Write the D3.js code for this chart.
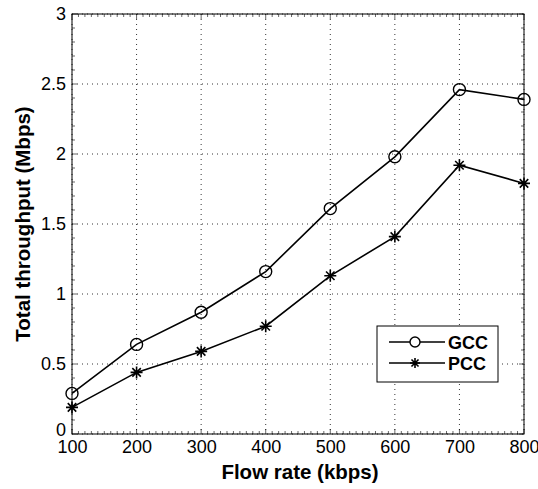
<!DOCTYPE html>
<html>
<head>
<meta charset="utf-8">
<script src="https://cdn.jsdelivr.net/npm/d3@7"></script>
<style>
    body { margin: 0; background: #fff; }
    text { font-family: "Liberation Sans", Arial, sans-serif; }
</style>
</head>
<body>
<div id="chart"></div>
<script>
var flowRates = [100, 200, 300, 400, 500, 600, 700, 800];
var gccValues = [0.29, 0.64, 0.87, 1.16, 1.61, 1.98, 2.46, 2.39];
var pccValues = [0.19, 0.44, 0.59, 0.77, 1.13, 1.41, 1.92, 1.79];
var yTicks = [0, 0.5, 1, 1.5, 2, 2.5, 3];
var seriesNames = ["GCC", "PCC"];

function init() {
    var w = 538;
    var h = 489;
    var left = 72, right = 524, top = 14, bottom = 434;

    var svg = d3.select("#chart")
        .append("svg")
        .attr("width", w)
        .attr("height", h);

    var xScale = d3.scaleLinear().domain([100, 800]).range([left, right]);
    var yScale = d3.scaleLinear().domain([0, 3]).range([bottom, top]);

    // dotted grid
    flowRates.forEach(function (v) {
        svg.append("line")
            .attr("x1", xScale(v)).attr("x2", xScale(v))
            .attr("y1", top).attr("y2", bottom)
            .attr("stroke", "#000").attr("stroke-width", 0.8)
            .attr("stroke-dasharray", "1,4");
    });
    yTicks.forEach(function (v) {
        svg.append("line")
            .attr("x1", left).attr("x2", right)
            .attr("y1", yScale(v)).attr("y2", yScale(v))
            .attr("stroke", "#000").attr("stroke-width", 0.8)
            .attr("stroke-dasharray", "1,4");
    });

    // minor ticks, inward on all sides
    var minorX = d3.range(100, 801, 10);
    var minorY = d3.range(0, 3.001, 0.1);
    minorX.forEach(function (v) {
        var len = (v % 100 === 0) ? 5 : 3;
        svg.append("line").attr("x1", xScale(v)).attr("x2", xScale(v))
            .attr("y1", bottom).attr("y2", bottom - len)
            .attr("stroke", "#000").attr("stroke-width", 0.6);
        svg.append("line").attr("x1", xScale(v)).attr("x2", xScale(v))
            .attr("y1", top).attr("y2", top + len)
            .attr("stroke", "#000").attr("stroke-width", 0.6);
    });
    minorY.forEach(function (v) {
        var len = (Math.round(v * 10) % 5 === 0) ? 5 : 3;
        svg.append("line").attr("x1", left).attr("x2", left + len)
            .attr("y1", yScale(v)).attr("y2", yScale(v))
            .attr("stroke", "#000").attr("stroke-width", 0.6);
        svg.append("line").attr("x1", right).attr("x2", right - len)
            .attr("y1", yScale(v)).attr("y2", yScale(v))
            .attr("stroke", "#000").attr("stroke-width", 0.6);
    });

    // frame
    svg.append("rect")
        .attr("x", left).attr("y", top)
        .attr("width", right - left).attr("height", bottom - top)
        .attr("fill", "none").attr("stroke", "#000").attr("stroke-width", 1);

    // axes (labels only)
    var xAxis = d3.axisBottom(xScale).tickValues(flowRates).tickSize(0).tickPadding(6);
    var gx = svg.append("g").attr("transform", "translate(0," + bottom + ")").call(xAxis);
    gx.select(".domain").remove();
    gx.selectAll("text").attr("font-size", 18).attr("font-family", "Liberation Sans, Arial, sans-serif").attr("fill", "#000");

    var yAxis = d3.axisLeft(yScale).tickValues(yTicks).tickSize(0).tickPadding(6)
        .tickFormat(function (d) { return String(d); });
    var gy = svg.append("g").attr("transform", "translate(" + left + ",0)").call(yAxis);
    gy.select(".domain").remove();
    gy.selectAll("text").attr("font-size", 18).attr("font-family", "Liberation Sans, Arial, sans-serif").attr("fill", "#000");
    // lift the "0" label a bit, as in the original
    gy.selectAll(".tick").filter(function (d) { return d === 0; })
        .select("text").attr("dy", "0.1em");

    // axis titles
    svg.append("text")
        .attr("x", (left + right) / 2 + 2).attr("y", 479)
        .attr("text-anchor", "middle")
        .attr("font-size", 20.5).attr("font-weight", "bold")
        .text("Flow rate (kbps)");

    svg.append("text")
        .attr("transform", "translate(30," + ((top + bottom) / 2) + ") rotate(-90)")
        .attr("text-anchor", "middle")
        .attr("font-size", 20.5).attr("font-weight", "bold")
        .text("Total throughput (Mbps)");

    var line = d3.line()
        .x(function (d, i) { return xScale(flowRates[i]); })
        .y(function (d) { return yScale(d); });

    [gccValues, pccValues].forEach(function (vals) {
        svg.append("path")
            .datum(vals)
            .attr("d", line)
            .attr("fill", "none").attr("stroke", "#000").attr("stroke-width", 1.6);
    });

    // GCC circles
    svg.selectAll(".gcc-dot")
        .data(gccValues)
        .enter()
        .append("circle")
        .attr("class", "gcc-dot")
        .attr("cx", function (d, i) { return xScale(flowRates[i]); })
        .attr("cy", function (d) { return yScale(d); })
        .attr("r", 6)
        .attr("fill", "none").attr("stroke", "#000").attr("stroke-width", 1.4);

    // PCC asterisks
    svg.selectAll(".pcc-dot")
        .data(pccValues)
        .enter()
        .append("path")
        .attr("class", "pcc-dot")
        .attr("transform", function (d, i) {
            return "translate(" + xScale(flowRates[i]) + "," + yScale(d) + ")";
        })
        .attr("d", asterisk(6))
        .attr("fill", "none").attr("stroke", "#000").attr("stroke-width", 1.6);

    // legend
    var legend = svg.append("g").attr("transform", "translate(377,326)");
    legend.append("rect")
        .attr("width", 121).attr("height", 56)
        .attr("fill", "#fff").attr("stroke", "#000").attr("stroke-width", 1);

    seriesNames.forEach(function (name, i) {
        var y = 16 + i * 21;
        legend.append("line")
            .attr("x1", 12).attr("x2", 68).attr("y1", y).attr("y2", y)
            .attr("stroke", "#000").attr("stroke-width", 1.6);
        if (i === 0) {
            legend.append("circle").attr("cx", 38).attr("cy", y).attr("r", 5)
                .attr("fill", "#fff").attr("stroke", "#000").attr("stroke-width", 1.4);
        } else {
            legend.append("path").attr("transform", "translate(38," + y + ")")
                .attr("d", asterisk(5))
                .attr("fill", "none").attr("stroke", "#000").attr("stroke-width", 1.6);
        }
        legend.append("text")
            .attr("x", 71).attr("y", y + 6.5)
            .attr("font-size", 18).attr("font-weight", "bold")
            .text(name);
    });
}

// MATLAB-style '*' marker: plus plus x
function asterisk(r) {
    var d = r * 0.7071;
    return "M" + (-r) + ",0L" + r + ",0" +
        "M0," + (-r) + "L0," + r +
        "M" + (-d) + "," + (-d) + "L" + d + "," + d +
        "M" + (-d) + "," + d + "L" + d + "," + (-d);
}

window.onload = init;
</script>
</body>
</html>
